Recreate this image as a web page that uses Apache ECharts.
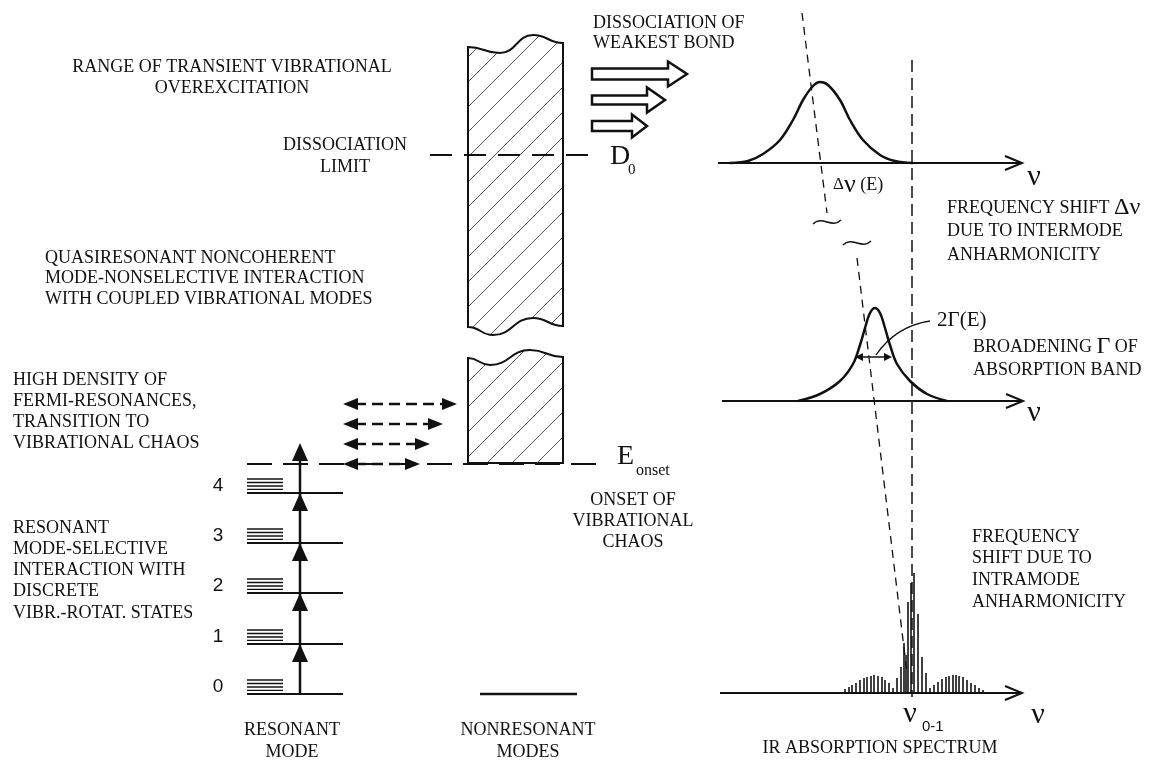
<!DOCTYPE html>
<html>
<head>
<meta charset="utf-8">
<script src="https://cdn.jsdelivr.net/npm/echarts@6/dist/echarts.min.js"></script>
<style>
  html, body { margin: 0; padding: 0; background: #fff; }
  #chart { width: 1149px; height: 760px; }
</style>
</head>
<body>
<div id="chart"></div>
<script>
// Diagram units: x runs 0..1149 left to right, y runs 0..760 top to bottom (energy grows upward)

// resonant mode ladder
const levelNumbers = ['0', '1', '2', '3', '4'];
const levelY = [694, 644, 593, 543, 493];
const levelSpan = [247, 343];
const rotSpan = [247, 283];
const rotOffsets = [3.7, 7, 10.5, 14];
const ladderX = 300;
const ladderTop = 443;
const numberX = 218;

// characteristic energies
const dissociationY = 155;
const dissociationSpan = [430, 597];
const onsetY = 464;
const onsetSpan = [247, 605];
const nonresonantGround = [480, 577];

// quasicontinuum column (hatched), wavy break edges
const upperTopWave = [[468, 47], [500, 53], [533, 35], [563, 43]];
const upperBottomWave = [[468, 327], [493, 335], [533, 318], [563, 326]];
const lowerTopWave = [[468, 358], [490, 365], [530, 350], [563, 357]];
const lowerBottomY = 463;

// Fermi-resonance coupling arrows
const couplingY = [404, 424, 444, 464];
const couplingLeft = 343;
const couplingRight = [457, 443, 430, 420];

// dissociation block arrows
const blockTail = [592, 592, 592];
const blockNeck = [668, 647, 632];
const blockTip = [687, 665, 647];
const blockY = [74, 100, 126];
const blockShaft = [5.5, 4.5, 5];
const blockHead = [12.5, 12.5, 11.5];

// spectra: frequency axes
const spectrumAxisY = [163, 401, 693];
const spectrumAxisStart = [718, 722, 720];
const spectrumAxisEnd = [1022, 1023, 1022];

// band above dissociation (shifted)
const band1 = [[730, 163], [748, 161], [763, 154], [780, 140], [793, 120], [803, 100], [813, 86], [820, 82],
  [828, 85], [840, 100], [850, 120], [863, 140], [880, 155], [895, 161], [913, 163]];
// broadened band in quasicontinuum
const band2 = [[798, 401], [820, 394], [840, 381], [853, 364], [860, 345], [865, 328], [870, 313], [875, 308],
  [880, 313], [885, 328], [890, 345], [897, 364], [910, 381], [927, 394], [947, 401]];
// discrete rovibrational lines (position, height above axis)
const stickFreq = [845, 849, 852, 856, 860, 864, 867, 871, 874, 878, 882, 885, 889, 893, 897, 901, 904, 906,
  908, 911, 914, 918, 922, 926, 930, 934, 938, 942, 946, 949, 953, 956, 959, 963, 967, 971, 975, 979, 983];
const stickHeight = [4, 6, 8, 10, 13, 15, 16, 17, 18, 17, 16, 13, 10, 5, 15, 26, 50, 38, 91, 110, 120, 79,
  36, 20, 5, 8, 11, 14, 16, 17, 18, 18, 17, 16, 13, 10, 8, 5, 3];

// fundamental and shifted band centres
const fundamentalX = 912;
const fundamentalSpan = [60, 697];
const shiftUpper = [[802, 13], [827, 213]];
const shiftLower = [[857, 258], [907, 673]];
const breakMarks = [[827, 222], [857, 243]];

// width marker 2Γ
const widthArrowY = 357;
const widthArrowSpan = [855, 892];
const widthLeader = [[876, 355], [896, 326], [930, 321]];

// text ({g|...} marks the larger Greek symbols)
const textBlocks = [
  ['RANGE OF TRANSIENT VIBRATIONAL', 'OVEREXCITATION'],
  ['DISSOCIATION', 'LIMIT'],
  ['DISSOCIATION OF', 'WEAKEST BOND'],
  ['QUASIRESONANT NONCOHERENT', 'MODE-NONSELECTIVE INTERACTION', 'WITH COUPLED VIBRATIONAL MODES'],
  ['HIGH DENSITY OF', 'FERMI-RESONANCES,', 'TRANSITION TO', 'VIBRATIONAL CHAOS'],
  ['RESONANT', 'MODE-SELECTIVE', 'INTERACTION WITH', 'DISCRETE', 'VIBR.-ROTAT. STATES'],
  ['ONSET OF', 'VIBRATIONAL', 'CHAOS'],
  ['RESONANT', 'MODE'],
  ['NONRESONANT', 'MODES'],
  ['FREQUENCY SHIFT {g|\u0394\u03bd}', 'DUE TO INTERMODE', 'ANHARMONICITY'],
  ['BROADENING {g|\u0393} OF', 'ABSORPTION BAND'],
  ['FREQUENCY', 'SHIFT DUE TO', 'INTRAMODE', 'ANHARMONICITY'],
  ['IR ABSORPTION SPECTRUM']
];
const textAnchors = [[232, 67], [345, 145], [593, 23], [45, 258], [13, 380], [13, 528], [633, 500],
  [292, 730], [528, 730], [947, 208], [973, 347], [972, 537], [880, 748]];
const textAlign = ['center', 'center', 'left', 'left', 'left', 'left', 'center', 'center', 'center',
  'left', 'left', 'left', 'center'];
const textLeading = [21, 22, 20, 20.5, 21, 21.2, 21, 22, 22, 23.5, 23, 21.7, 0];

const nuLabels = [[1034, 177], [1034, 413], [1038, 715]];

const INK = '#111';
const SERIF = '"Liberation Serif", "DejaVu Serif", serif';
const SANS = '"Liberation Sans", Arial, sans-serif';
const RICH = {
  g: { fontSize: 24, fontFamily: SERIF, fill: INK },
  d: { fontSize: 17, fontFamily: SERIF, fill: INK },
  n: { fontSize: 26, fontFamily: SERIF, fill: INK }
};

// hatch tile for the quasicontinuum column
const hatch = document.createElement('canvas');
hatch.width = 25;
hatch.height = 25;
(function () {
  const ctx = hatch.getContext('2d');
  ctx.strokeStyle = '#555';
  ctx.lineWidth = 1;
  ctx.beginPath();
  ctx.moveTo(-2, 27); ctx.lineTo(27, -2);
  ctx.moveTo(-5, 5); ctx.lineTo(5, -5);
  ctx.moveTo(20, 30); ctx.lineTo(30, 20);
  ctx.stroke();
})();

function line(p, q, width, dash) {
  return {
    type: 'line',
    shape: { x1: p[0], y1: p[1], x2: q[0], y2: q[1] },
    style: { stroke: INK, lineWidth: width, lineDash: dash || null }
  };
}
function poly(points, fill, stroke, width) {
  return { type: 'polygon', shape: { points }, style: { fill, stroke, lineWidth: width || 0 } };
}
function text(x, y, str, size, family, align, vAlign) {
  return {
    type: 'text', x, y,
    style: {
      text: str, fontSize: size, fontFamily: family, fill: INK, rich: RICH,
      align: align || 'left', verticalAlign: vAlign || 'middle'
    }
  };
}
function once(name, render) {
  return { type: 'custom', name, data: [[0, 0]], silent: true, renderItem: (params, api) => render(api) };
}
function plain(name, data, width, dash, smooth) {
  return {
    type: 'line', name, data, symbol: 'none', silent: true, smooth: smooth || false,
    lineStyle: { color: INK, width, type: dash || 'solid' }
  };
}
// smooth wave through points with flat tangents at each key point
function wavePath(api, pts, start) {
  const c = pts.map(p => api.coord(p));
  let d = start ? `M${c[0][0]},${c[0][1]}` : `L${c[0][0]},${c[0][1]}`;
  for (let i = 0; i < c.length - 1; i++) {
    const a = c[i], b = c[i + 1], h = (b[0] - a[0]) / 2;
    d += ` C${a[0] + h},${a[1]} ${b[0] - h},${b[1]} ${b[0]},${b[1]}`;
  }
  return d;
}

const series = [];

// hatched column, two pieces
series.push(once('column', api => {
  const upper = wavePath(api, upperTopWave, true) + ' ' + wavePath(api, upperBottomWave.slice().reverse(), false) + ' Z';
  const bl = api.coord([lowerTopWave[0][0], lowerBottomY]);
  const br = api.coord([lowerTopWave[lowerTopWave.length - 1][0], lowerBottomY]);
  const lower = wavePath(api, lowerTopWave, true) + ` L${br[0]},${br[1]} L${bl[0]},${bl[1]} Z`;
  const style = { fill: { image: hatch, repeat: 'repeat' }, stroke: INK, lineWidth: 2 };
  return {
    type: 'group', children: [
      { type: 'path', shape: { pathData: upper }, style },
      { type: 'path', shape: { pathData: lower }, style }
    ]
  };
}));

// dissociation limit and onset of chaos
series.push(plain('D0', dissociationSpan.map(x => [x, dissociationY]), 2, [22, 12]));
series.push(plain('Eonset', onsetSpan.map(x => [x, onsetY]), 2, [25, 11]));
series.push(plain('ground', nonresonantGround.map(x => [x, levelY[0]]), 2.5));

// resonant ladder levels
series.push({
  type: 'custom', name: 'levels', silent: true,
  data: levelY.map((y, i) => [i, y]),
  renderItem: (params, api) => {
    const y = api.value(1);
    const kids = [line(api.coord([levelSpan[0], y]), api.coord([levelSpan[1], y]), 2)];
    rotOffsets.forEach(o => kids.push(line(api.coord([rotSpan[0], y - o]), api.coord([rotSpan[1], y - o]), 1.3)));
    const n = api.coord([numberX, y - 7]);
    kids.push(text(n[0], n[1], levelNumbers[api.value(0)], 19, SANS, 'center'));
    return { type: 'group', children: kids };
  }
});

// ladder of excitation arrows
series.push(once('ladder', api => {
  const kids = [line(api.coord([ladderX, levelY[0]]), api.coord([ladderX, ladderTop + 6]), 2.5)];
  levelY.slice(1).concat([ladderTop]).forEach(t => {
    const tip = api.coord([ladderX, t]);
    const l = api.coord([ladderX - 8, t + 18]);
    const r = api.coord([ladderX + 8, t + 18]);
    kids.push(poly([tip, l, r], INK));
  });
  return { type: 'group', children: kids };
}));

// coupling double arrows
series.push({
  type: 'custom', name: 'coupling', silent: true,
  data: couplingY.map((y, i) => [couplingRight[i], y]),
  renderItem: (params, api) => {
    const y = api.value(1), R = api.value(0), L = couplingLeft;
    return {
      type: 'group', children: [
        line(api.coord([L + 12, y]), api.coord([R - 12, y]), 2.5, [11, 6]),
        poly([api.coord([L, y]), api.coord([L + 15, y - 6]), api.coord([L + 15, y + 6])], INK),
        poly([api.coord([R, y]), api.coord([R - 15, y - 6]), api.coord([R - 15, y + 6])], INK)
      ]
    };
  }
});

// dissociation block arrows
series.push({
  type: 'custom', name: 'blocks', silent: true,
  data: blockY.map((y, i) => [blockTip[i], y]),
  renderItem: (params, api) => {
    const i = params.dataIndex, y = blockY[i], h = blockShaft[i], H = blockHead[i];
    const pts = [[blockTail[i], y - h], [blockNeck[i], y - h], [blockNeck[i], y - H], [blockTip[i], y],
      [blockNeck[i], y + H], [blockNeck[i], y + h], [blockTail[i], y + h]].map(p => api.coord(p));
    return poly(pts, '#fff', INK, 2.5);
  }
});

// frequency axes
spectrumAxisY.forEach((y, i) => {
  series.push(plain('axis' + i, [[spectrumAxisStart[i], y], [spectrumAxisEnd[i], y]], 2));
});
series.push({
  type: 'custom', name: 'axisHeads', silent: true,
  data: spectrumAxisY.map((y, i) => [spectrumAxisEnd[i], y]),
  renderItem: (params, api) => {
    const x = api.value(0), y = api.value(1);
    return {
      type: 'polyline',
      shape: { points: [api.coord([x - 17, y - 7]), api.coord([x, y]), api.coord([x - 17, y + 7])] },
      style: { stroke: INK, lineWidth: 2, fill: null }
    };
  }
});

// bands
series.push(plain('band1', band1, 2.5, null, 0.35));
series.push(plain('band2', band2, 2.5, null, 0.35));

// discrete lines
series.push({
  type: 'custom', name: 'sticks', silent: true,
  data: stickFreq.map((f, i) => [f, stickHeight[i]]),
  renderItem: (params, api) => {
    const base = spectrumAxisY[2];
    return line(api.coord([api.value(0), base]), api.coord([api.value(0), base - api.value(1)]), 1.6);
  }
});

// band-centre guides
series.push(plain('fundamental', fundamentalSpan.map(y => [fundamentalX, y]), 1.5, [12, 6]));
series.push(plain('shiftUpper', shiftUpper, 1.3, [8, 6]));
series.push(plain('shiftLower', shiftLower, 1.3, [8, 6]));
series.push({
  type: 'custom', name: 'breaks', silent: true,
  data: breakMarks,
  renderItem: (params, api) => {
    const x = api.value(0), y = api.value(1);
    const a = api.coord([x - 14, y + 2]), b = api.coord([x - 5, y - 7]), c = api.coord([x + 5, y + 7]), d = api.coord([x + 14, y - 2]);
    return {
      type: 'bezierCurve',
      shape: { x1: a[0], y1: a[1], cpx1: b[0], cpy1: b[1], cpx2: c[0], cpy2: c[1], x2: d[0], y2: d[1] },
      style: { stroke: INK, lineWidth: 1.5, fill: null }
    };
  }
});

// 2Γ width marker
series.push(once('width', api => {
  const y = widthArrowY, L = widthArrowSpan[0], R = widthArrowSpan[1];
  const p = widthLeader.map(q => api.coord(q));
  return {
    type: 'group', children: [
      line(api.coord([L + 4, y]), api.coord([R - 4, y]), 1.5),
      poly([api.coord([L, y]), api.coord([L + 8, y - 4]), api.coord([L + 8, y + 4])], INK),
      poly([api.coord([R, y]), api.coord([R - 8, y - 4]), api.coord([R - 8, y + 4])], INK),
      {
        type: 'bezierCurve',
        shape: { x1: p[0][0], y1: p[0][1], cpx1: p[1][0], cpy1: p[1][1], x2: p[2][0], y2: p[2][1] },
        style: { stroke: INK, lineWidth: 1.3, fill: null }
      }
    ]
  };
}));

// text annotations
series.push(once('labels', api => {
  const kids = [];
  textBlocks.forEach((lines, b) => {
    lines.forEach((s, k) => {
      const p = api.coord([textAnchors[b][0], textAnchors[b][1] + k * textLeading[b]]);
      kids.push(text(p[0], p[1], s, 18, SERIF, textAlign[b]));
    });
  });
  nuLabels.forEach(q => {
    const p = api.coord(q);
    kids.push(text(p[0], p[1], '\u03bd', 30, SERIF, 'center'));
  });
  let p = api.coord([610, 157]);
  kids.push(text(p[0], p[1], 'D', 28, SERIF, 'left'));
  p = api.coord([628, 170]);
  kids.push(text(p[0], p[1], '0', 15, SERIF, 'left'));
  p = api.coord([617, 457]);
  kids.push(text(p[0], p[1], 'E', 28, SERIF, 'left'));
  p = api.coord([636, 471]);
  kids.push(text(p[0], p[1], 'onset', 16, SERIF, 'left'));
  p = api.coord([833, 185]);
  kids.push(text(p[0], p[1], '{d|\u0394}{n|\u03bd} (E)', 18, SERIF, 'left'));
  p = api.coord([937, 320]);
  kids.push(text(p[0], p[1], '2\u0393(E)', 21, SERIF, 'left'));
  p = api.coord([910, 714]);
  kids.push(text(p[0], p[1], '\u03bd', 30, SERIF, 'center'));
  p = api.coord([922, 727]);
  kids.push(text(p[0], p[1], '0-1', 15, SANS, 'left'));
  return { type: 'group', children: kids };
}));

const chart = echarts.init(document.getElementById('chart'));
chart.setOption({
  animation: false,
  backgroundColor: '#fff',
  grid: { left: 0, right: 0, top: 0, bottom: 0 },
  xAxis: { type: 'value', min: 0, max: 1149, show: false },
  yAxis: { type: 'value', min: 0, max: 760, inverse: true, show: false },
  series
});

window.addEventListener('resize', () => chart.resize());
</script>
</body>
</html>
